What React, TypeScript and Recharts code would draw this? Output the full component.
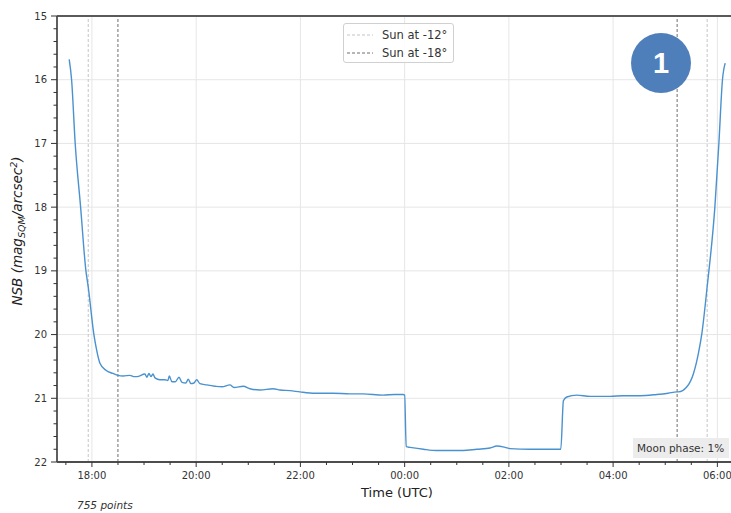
import React from "react";
import {
  LineChart,
  Line,
  XAxis,
  YAxis,
  ReferenceLine,
} from "recharts";

// time in hours (24 = 00:00 next day), NSB in mag/arcsec^2
const times = [
  17.564, 17.61, 17.679, 17.783, 17.885, 17.929, 18.038, 18.09, 18.154, 18.269,
  18.403, 18.499, 18.6, 18.729, 18.8, 18.864, 19.017, 19.056, 19.094, 19.132,
  19.171, 19.21, 19.305, 19.4, 19.459, 19.484, 19.535, 19.6, 19.67, 19.727,
  19.804, 19.848, 19.9, 19.958, 20.01, 20.073, 20.202, 20.36, 20.495, 20.649,
  20.726, 20.904, 21.033, 21.225, 21.474, 21.608, 21.8, 21.992, 22.28, 22.626,
  22.952, 23.2, 23.585, 23.815, 23.969, 24.0, 24.03, 24.104, 24.359, 24.616,
  24.871, 25.121, 25.384, 25.639, 25.768, 25.927, 26.023, 26.407, 26.791, 26.996,
  27.046, 27.11, 27.303, 27.558, 27.942, 28.192, 28.518, 28.838, 29.056, 29.223,
  29.254, 29.415, 29.542, 29.637, 29.703, 29.804, 29.952, 30.029, 30.098,
  30.15,
];
const nsb = [
  15.68, 16.0, 17.0, 18.0, 19.0, 19.25, 20.0, 20.24, 20.45, 20.56,
  20.61, 20.64, 20.65, 20.64, 20.66, 20.66, 20.62, 20.67, 20.61, 20.66,
  20.62, 20.68, 20.71, 20.71, 20.72, 20.65, 20.74, 20.74, 20.67, 20.75,
  20.76, 20.7, 20.77, 20.76, 20.71, 20.77, 20.79, 20.81, 20.82, 20.79,
  20.83, 20.81, 20.85, 20.87, 20.85, 20.87, 20.88, 20.9, 20.92, 20.92,
  20.93, 20.93, 20.95, 20.94, 20.94, 20.95, 21.76, 21.77, 21.8, 21.82,
  21.82, 21.82, 21.8, 21.78, 21.75, 21.77, 21.79, 21.8, 21.8, 21.8,
  21.04, 20.98, 20.95, 20.97, 20.97, 20.96, 20.96, 20.94, 20.92, 20.9,
  20.9, 20.82, 20.61, 20.29, 19.98, 19.25, 18.0, 17.0, 16.0,
  15.74,
];

const xMajorTicks = [18, 20, 22, 24, 26, 28, 30];
const xTickLabels = ["18:00", "20:00", "22:00", "00:00", "02:00", "04:00", "06:00"];
const yMajorTicks = [15, 16, 17, 18, 19, 20, 21, 22];

const sunLines = [
  { label: "Sun at -12°", color: "#c4c4c4", times: [17.929, 29.804] },
  { label: "Sun at -18°", color: "#6e6e6e", times: [18.499, 29.228] },
];

const moonPhase = "Moon phase: 1%";
const pointCount = "755 points";

const data = times.map((t, i) => ({ t, v: nsb[i] }));

// minor ticks every 30 min / 0.2 mag
const xTicks = Array.from({ length: 26 }, (_, i) => 17.5 + i * 0.5);
const yTicks = Array.from({ length: 36 }, (_, i) => 15 + i * 0.2);

const FONT = "'DejaVu Sans', sans-serif";
const isMajor = (v: number, majors: number[]) =>
  majors.some((m) => Math.abs(m - v) < 1e-6);

const XTick = (props: any) => {
  const { x, y, payload } = props;
  const idx = xMajorTicks.findIndex((m) => Math.abs(m - payload.value) < 1e-6);
  const major = idx >= 0;
  return (
    <g>
      <line x1={x} x2={x} y1={y} y2={y + (major ? 5 : 3)} stroke="#333" strokeWidth={1} />
      {major && (
        <text x={x} y={y + 17} textAnchor="middle" fontSize={10} fill="#333" fontFamily={FONT}>
          {xTickLabels[idx]}
        </text>
      )}
    </g>
  );
};

const YTick = (props: any) => {
  const { x, y, payload } = props;
  const major = isMajor(payload.value, yMajorTicks);
  return (
    <g>
      <line x1={x - (major ? 6 : 3.5)} x2={x} y1={y} y2={y} stroke="#333" strokeWidth={1} />
      {major && (
        <text x={x - 10} y={y + 3.5} textAnchor="end" fontSize={10} fill="#333" fontFamily={FONT}>
          {Math.round(payload.value)}
        </text>
      )}
    </g>
  );
};

export default function App() {
  return (
    <div
      style={{
        position: "absolute",
        left: 0,
        top: 0,
        width: 731,
        height: 513,
        overflow: "hidden",
        background: "#fff",
        fontFamily: FONT,
      }}
    >
      <LineChart
        width={740}
        height={513}
        data={data}
        margin={{ top: 16, right: 7, bottom: 0, left: 0 }}
      >
        <XAxis
          dataKey="t"
          type="number"
          domain={[17.33, 30.3]}
          allowDataOverflow
          ticks={xTicks}
          interval={0}
          tick={<XTick />}
          tickLine={false}
          tickSize={0}
          tickMargin={0}
          height={51}
          axisLine={{ stroke: "#4d4d4d", strokeWidth: 1.8 }}
          label={{
            content: () => (
              <text x={397} y={497} textAnchor="middle" fontSize={13} fill="#222" fontFamily={FONT}>
                Time (UTC)
              </text>
            ),
          }}
        />
        <YAxis
          type="number"
          domain={[15, 22]}
          reversed
          allowDataOverflow
          ticks={yTicks}
          interval={0}
          tick={<YTick />}
          tickLine={false}
          tickSize={0}
          tickMargin={0}
          width={57}
          axisLine={{ stroke: "#4d4d4d", strokeWidth: 1.8 }}
          label={{
            content: () => (
              <text
                x={22}
                y={231}
                transform="rotate(-90, 22, 231)"
                textAnchor="middle"
                fontSize={13.5}
                fill="#222"
                fontFamily={FONT}
                fontStyle="italic"
              >
                NSB (mag
                <tspan fontSize={9.5} dy={3}>SQM</tspan>
                <tspan dy={-3}>/arcsec</tspan>
                <tspan fontSize={9.5} dy={-5}>2</tspan>
                <tspan dy={5}>)</tspan>
              </text>
            ),
          }}
        />
        {xMajorTicks.map((t) => (
          <ReferenceLine key={`gx-${t}`} x={t} stroke="#e6e6e6" strokeWidth={1} />
        ))}
        {yMajorTicks.slice(1, -1).map((v) => (
          <ReferenceLine key={`gy-${v}`} y={v} stroke="#e6e6e6" strokeWidth={1} />
        ))}
        {sunLines.map((s) =>
          s.times.map((t) => (
            <ReferenceLine
              key={`${s.label}-${t}`}
              x={t}
              stroke={s.color}
              strokeWidth={1}
              strokeDasharray="3 2"
            />
          ))
        )}
        <ReferenceLine y={15} stroke="#5a5a5a" strokeWidth={2} />
        <Line
          type="monotoneX"
          dataKey="v"
          stroke="#4a92cf"
          strokeWidth={1.4}
          dot={false}
          isAnimationActive={false}
        />
      </LineChart>

      {/* legend */}
      <div
        style={{
          position: "absolute",
          left: 343,
          top: 23,
          width: 109,
          height: 38,
          border: "1px solid #d0d0d0",
          borderRadius: 3,
          background: "rgba(255,255,255,0.85)",
        }}
      >
        {sunLines.map((s, i) => (
          <div
            key={s.label}
            style={{
              position: "absolute",
              left: 3,
              top: 2 + i * 18.5,
              height: 17,
              display: "flex",
              alignItems: "center",
              fontSize: 11.5,
              color: "#333",
              whiteSpace: "nowrap",
            }}
          >
            <svg width={27} height={4} style={{ marginRight: 8 }}>
              <line x1={0} x2={26} y1={2} y2={2} stroke={s.color} strokeDasharray="3 2" />
            </svg>
            {s.label}
          </div>
        ))}
      </div>

      {/* numbered badge */}
      <div
        style={{
          position: "absolute",
          left: 631,
          top: 33,
          width: 60,
          height: 60,
          borderRadius: "50%",
          background: "#4f7fbb",
          color: "#fff",
          fontFamily: "'Liberation Sans', Arial, sans-serif",
          fontWeight: "bold",
          fontSize: 29,
          display: "flex",
          alignItems: "center",
          justifyContent: "center",
        }}
      >
        1
      </div>

      {/* moon phase box */}
      <div
        style={{
          position: "absolute",
          left: 633,
          top: 438,
          width: 96,
          height: 20,
          background: "#ececec",
          fontSize: 10.5,
          color: "#333",
          display: "flex",
          alignItems: "center",
          paddingLeft: 4,
          boxSizing: "border-box",
          whiteSpace: "nowrap",
        }}
      >
        {moonPhase}
      </div>

      <div
        style={{
          position: "absolute",
          left: 77,
          top: 499,
          fontSize: 10.5,
          fontStyle: "italic",
          color: "#333",
          whiteSpace: "nowrap",
        }}
      >
        {pointCount}
      </div>
    </div>
  );
}
